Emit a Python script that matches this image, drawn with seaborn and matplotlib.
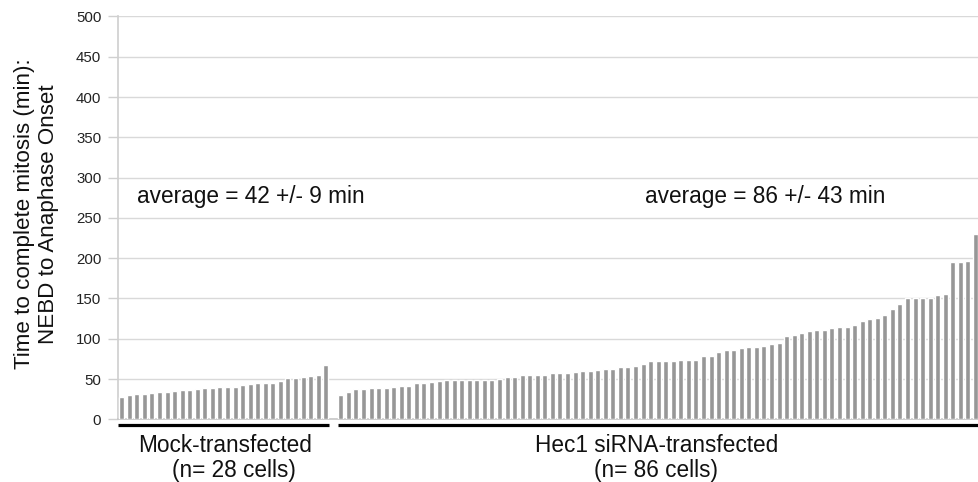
import numpy as np
import pandas as pd
import matplotlib
matplotlib.use("Agg")
import matplotlib.pyplot as plt
import matplotlib.transforms as mtrans
import seaborn as sns

# ---- data ----
mock = [28, 30, 31, 32, 33, 34, 34, 35, 36, 36, 37, 39, 39, 40, 40, 40, 42, 44,
        45, 45, 45, 48, 51, 51, 52, 54, 55, 68]
hec1 = [30, 34, 37, 37, 39, 39, 39, 40, 41, 41, 45, 45, 46, 48, 49, 49, 49, 49,
        49, 49, 49, 50, 53, 53, 55, 55, 55, 55, 57, 58, 58, 59, 60, 60, 61, 62,
        62, 65, 65, 66, 69, 72, 72, 72, 72, 74, 74, 74, 79, 79, 84, 86, 86, 88,
        90, 90, 91, 93, 95, 103, 105, 107, 109, 111, 111, 113, 114, 115, 117,
        122, 124, 126, 129, 137, 143, 150, 150, 151, 151, 154, 155, 195, 195,
        196, 230]
groups = ["Mock-transfected", "Hec1 siRNA-transfected"]
counts = ["(n= 28 cells)", "(n= 86 cells)"]
averages = ["average = 42 +/- 9 min", "average = 86 +/- 43 min"]
yticks = list(range(0, 501, 50))
ylabel = "Time to complete mitosis (min):\nNEBD to Anaphase Onset"

# ---- style ----
sns.set_theme(style="white")
plt.rcParams["font.family"] = ["Liberation Sans", "DejaVu Sans"]

n_m, n_h = len(mock), len(hec1)
pos = np.concatenate([np.arange(n_m), n_m + 1 + np.arange(n_h)])
df = pd.DataFrame({
    "pos": pos,
    "time": mock + hec1,
    "group": [groups[0]] * n_m + [groups[1]] * n_h,
})

fig = plt.figure(figsize=(9.79, 4.82), dpi=100)
ax = fig.add_axes([0.1205, 0.1301, 0.8795, 0.8357])

sns.barplot(data=df, x="pos", y="time", native_scale=True, width=0.66,
            color="#979797", saturation=1, errorbar=None, ax=ax, zorder=3)

xmax = n_m + n_h + 0.46
ax.set_xlim(-0.49, xmax)
ax.set_ylim(0, 500)
ax.set_yticks(yticks)
ax.set_xticks([])
ax.set_xlabel("")
ax.set_ylabel(ylabel, fontsize=16.1, color="#111111", linespacing=1.15)
ax.yaxis.set_label_coords(-0.069, 0.51)

ax.set_axisbelow(True)
ax.yaxis.grid(True, color="#d9d9d9", lw=1)
for s in ["top", "right"]:
    ax.spines[s].set_visible(False)
ax.spines["left"].set_color("#d0d0d0")
ax.spines["bottom"].set_color("#c8c8c8")
ax.tick_params(axis="y", left=True, length=7, width=1, color="#d0d0d0",
               labelsize=10.8, pad=5, labelcolor="#222222")

trans = mtrans.blended_transform_factory(ax.transData, ax.transAxes)
# group underline bars
ax.plot([-0.45, n_m - 0.57], [-0.014, -0.014], color="black", lw=2.3,
        transform=trans, clip_on=False, solid_capstyle="butt")
ax.plot([n_m + 0.63, xmax + 2], [-0.014, -0.014], color="black", lw=2.3,
        transform=trans, clip_on=False, solid_capstyle="butt")

# group labels
ax.text(13.7, -0.081, groups[0], transform=trans, ha="center", va="baseline",
        fontsize=16.3, color="#111111")
ax.text(14.9, -0.143, counts[0], transform=trans, ha="center", va="baseline",
        fontsize=16.3, color="#111111")
ax.text(70.8, -0.081, groups[1], transform=trans, ha="center", va="baseline",
        fontsize=16.3, color="#111111")
ax.text(70.7, -0.143, counts[1], transform=trans, ha="center", va="baseline",
        fontsize=16.3, color="#111111")

# averages
ax.text(2.03, 268.5, averages[0], ha="left", va="baseline", fontsize=16.3,
        color="#111111")
ax.text(69.25, 268.5, averages[1], ha="left", va="baseline", fontsize=16.3,
        color="#111111")

fig.savefig("out.png", dpi=100)
